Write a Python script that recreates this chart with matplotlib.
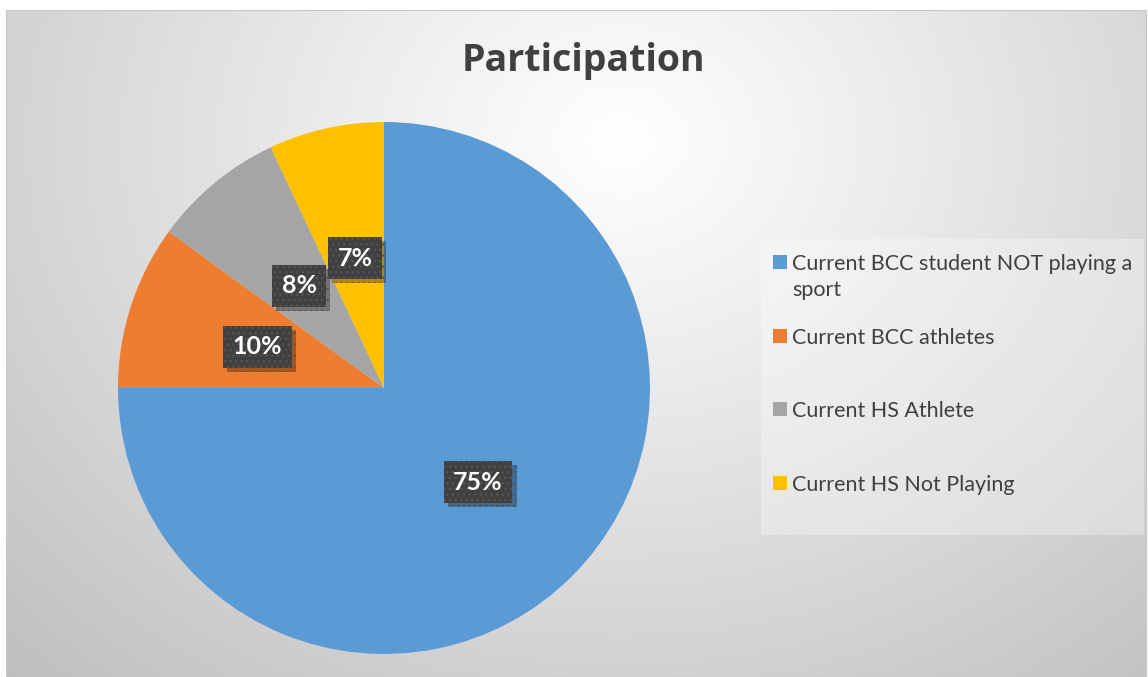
import numpy as np
import matplotlib
matplotlib.use("Agg")
import matplotlib.pyplot as plt
import matplotlib.patheffects as pe
from matplotlib.patches import Rectangle

# ---- data ----
categories = ["Current BCC student NOT playing a sport",
              "Current BCC athletes",
              "Current HS Athlete",
              "Current HS Not Playing"]
values = [75, 10, 8, 7]
title = "Participation"

# ---- style ----
colors = ["#5B9BD5", "#ED7D31", "#A5A5A5", "#FFC000"]
text_color = "#404040"
W, H = 1148, 677
FONT = "Lato"

fig = plt.figure(figsize=(W / 100, H / 100), dpi=100)
fig.patch.set_facecolor("white")

# background radial gradient panel (pixel coords -> figure fraction)
x0, x1, y0, y1 = 6, 1146, 10, 677
bg = fig.add_axes([x0 / W, 1 - y1 / H, (x1 - x0) / W, (y1 - y0) / H])
xx, yy = np.meshgrid(np.arange(x0, x1), np.arange(y0, y1))
r = np.sqrt((xx - 620.0) ** 2 + ((yy - 140.0) * 1.2) ** 2)
val = 1 - 0.235 * np.clip(r / 830.0, 0, 1.1) ** 1.05
img = np.dstack([val, val, val])
bg.imshow(img, aspect="auto", interpolation="bilinear", extent=[0, 1, 0, 1])
bg.set_xlim(0, 1)
bg.set_ylim(0, 1)
for s in bg.spines.values():
    s.set_color("#c8c8c8")
    s.set_linewidth(0.8)
bg.set_xticks([])
bg.set_yticks([])

# pie axes: centre (384, 388) px, radius 266 px
cx, cy, R = 384, 388, 266
ax = fig.add_axes([(cx - R) / W, 1 - (cy + R) / H, 2 * R / W, 2 * R / H])
wedges, texts, autotexts = ax.pie(
    values, colors=colors, startangle=90, counterclock=False,
    autopct=lambda p: f"{p:.0f}%", pctdistance=0.5,
    wedgeprops=dict(linewidth=0),
    textprops=dict(color="white", fontsize=18, fontweight="bold", family=FONT),
)
ax.set_xlim(-1, 1)
ax.set_ylim(-1, 1)
ax.set_aspect("equal")
for t in autotexts:
    t.set_bbox(dict(boxstyle="square,pad=0.38", facecolor="#404040",
                    edgecolor="#555555", linewidth=0, hatch="..."))
    patch = t.get_bbox_patch()
    patch.set_path_effects([pe.SimplePatchShadow(offset=(3, -3), shadow_rgbFace="black", alpha=0.3),
                            pe.Normal()])

# title
fig.text(583 / W, 1 - 71 / H, title, ha="center", va="baseline",
         fontsize=27, fontweight="bold", color=text_color, family="Open Sans")

# legend (manual layout to match reference spacing)
fig.patches.append(Rectangle((761 / W, 1 - 535 / H), (1144 - 761) / W, (535 - 239) / H,
                             transform=fig.transFigure, facecolor="white", alpha=0.3,
                             edgecolor="none"))
legend_y = [262, 336, 409, 483]
sq = 14
for cat, col, ly in zip(categories, colors, legend_y):
    fig.patches.append(Rectangle((773 / W, 1 - (ly + sq / 2) / H), sq / W, sq / H,
                                 transform=fig.transFigure, facecolor=col, edgecolor="none"))
    label = cat.replace("playing a sport", "playing a\nsport")
    fig.text(792 / W, 1 - (ly - 8) / H, label, ha="left", va="top",
             fontsize=15.5, color=text_color, family=FONT, linespacing=1.35)

fig.savefig("out.png", dpi=100, facecolor="white")
